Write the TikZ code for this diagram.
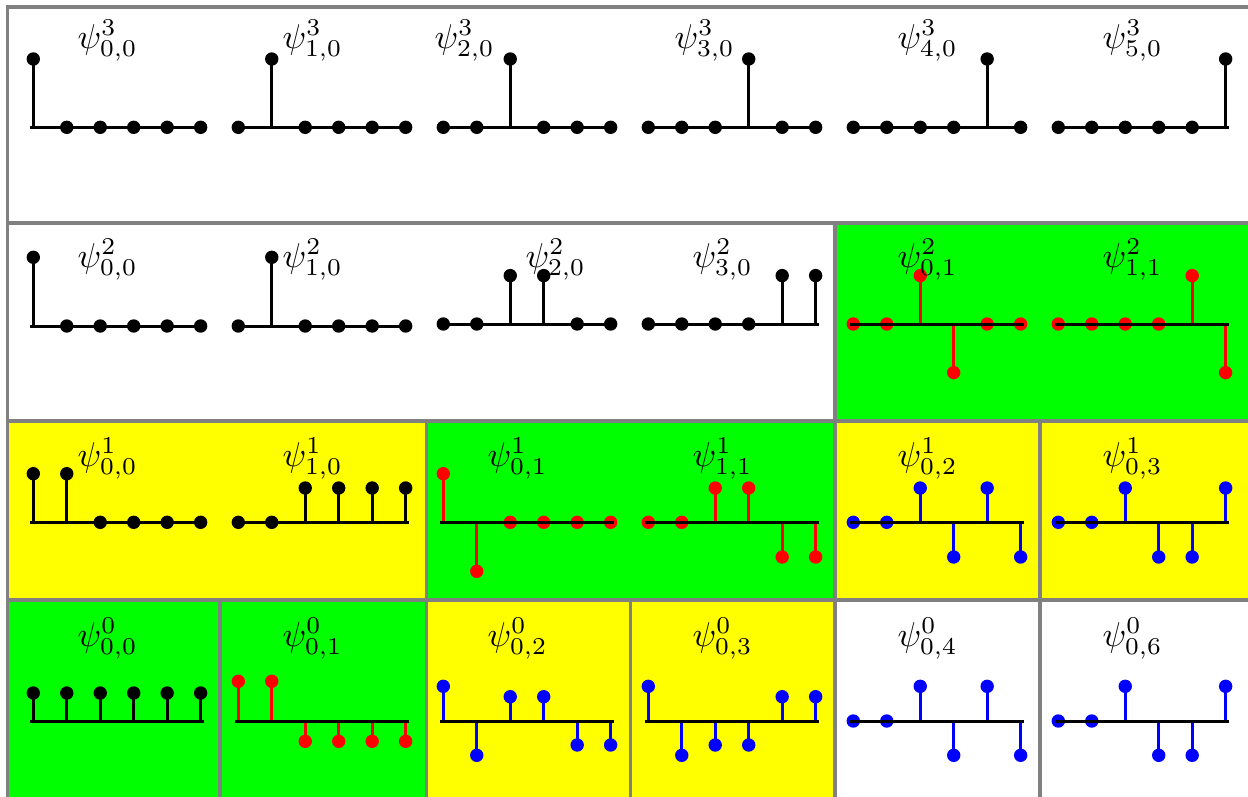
\documentclass[tikz,border=0pt]{standalone}
\definecolor{cellgreen}{HTML}{00FF00}
\definecolor{cellyellow}{HTML}{FFFF00}
\definecolor{framegray}{HTML}{808080}
% one stem plot: #1 left x, #2 axis y, #3 colour, #4 heights (up = positive)
\newcommand\stemplot[4]{%
  \foreach \h [count=\i from 0] in {#4} {
    \pgfmathsetmacro\xx{#1+33.47*\i}
    \draw[stem, #3] (\xx,#2) -- (\xx,#2-\h);
    \fill[#3] (\xx,#2-\h) circle (6.7pt);
  }
  \draw[axisline] (#1-3.3,#2) -- (#1+170.65,#2);
}
\begin{document}
\begin{tikzpicture}[x=1pt,y=-1pt,
  cellframe/.style={draw=framegray, line width=3.2pt},
  axisline/.style={line width=3pt, black},
  stem/.style={line width=2.8pt},
  lbl/.style={inner sep=0pt, anchor=base west, scale=3.45}]
\useasboundingbox (0,0) rectangle (1248,796);

% cell backgrounds
\fill[white] (7.3,7) rectangle (1262,223);
\fill[white] (7.3,223) rectangle (835,421);
\fill[cellgreen] (835,223) rectangle (1262,421);
\fill[cellyellow] (7.3,421) rectangle (426.5,600);
\fill[cellgreen] (426.5,421) rectangle (835,600);
\fill[cellyellow] (835,421) rectangle (1040,600);
\fill[cellyellow] (1040,421) rectangle (1262,600);
\fill[cellgreen] (7.3,600) rectangle (220,810);
\fill[cellgreen] (220,600) rectangle (426.5,810);
\fill[cellyellow] (426.5,600) rectangle (630.7,810);
\fill[cellyellow] (630.7,600) rectangle (835,810);
\fill[white] (835,600) rectangle (1040,810);
\fill[white] (1040,600) rectangle (1262,810);

% cell frames
\draw[cellframe] (7.3,7) rectangle (1262,223);
\draw[cellframe] (7.3,223) rectangle (835,421);
\draw[cellframe] (835,223) rectangle (1262,421);
\draw[cellframe] (7.3,421) rectangle (426.5,600);
\draw[cellframe] (426.5,421) rectangle (835,600);
\draw[cellframe] (835,421) rectangle (1040,600);
\draw[cellframe] (1040,421) rectangle (1262,600);
\draw[cellframe] (7.3,600) rectangle (220,810);
\draw[cellframe] (220,600) rectangle (426.5,810);
\draw[cellframe] (426.5,600) rectangle (630.7,810);
\draw[cellframe] (630.7,600) rectangle (835,810);
\draw[cellframe] (835,600) rectangle (1040,810);
\draw[cellframe] (1040,600) rectangle (1262,810);

% level 3
\stemplot{33.3}{127.3}{black}{68.3,0,0,0,0,0}
\stemplot{238.3}{127.3}{black}{0,68.3,0,0,0,0}
\stemplot{443.3}{127.3}{black}{0,0,68.3,0,0,0}
\stemplot{648.3}{127.3}{black}{0,0,0,68.3,0,0}
\stemplot{853.3}{127.3}{black}{0,0,0,0,68.3,0}
\stemplot{1058.3}{127.3}{black}{0,0,0,0,0,68.3}
\node[lbl] (p30) at (77,48) {$\psi^3_{0,0}$};
\node[lbl] (p31) at (282,48) {$\psi^3_{1,0}$};
\node[lbl] (p32) at (434,48) {$\psi^3_{2,0}$};
\node[lbl] (p33) at (674,48) {$\psi^3_{3,0}$};
\node[lbl] (p34) at (897,48) {$\psi^3_{4,0}$};
\node[lbl] (p35) at (1102,48) {$\psi^3_{5,0}$};

% level 2
\stemplot{33.3}{326}{black}{68.7,0,0,0,0,0}
\stemplot{238.3}{326}{black}{0,68.7,0,0,0,0}
\stemplot{443.3}{324}{black}{0,0,48.4,48.4,0,0}
\stemplot{648.3}{324}{black}{0,0,0,0,48.4,48.4}
\stemplot{853.3}{324}{red}{0,0,48.4,-48.6,0,0}
\stemplot{1058.3}{324}{red}{0,0,0,0,48.4,-48.6}
\node[lbl] (p20) at (77,267) {$\psi^2_{0,0}$};
\node[lbl] (p21) at (282,267) {$\psi^2_{1,0}$};
\node[lbl] (p22) at (525,267) {$\psi^2_{2,0}$};
\node[lbl] (p23) at (692,267) {$\psi^2_{3,0}$};
\node[lbl] (p24) at (897,267) {$\psi^2_{0,1}$};
\node[lbl] (p25) at (1102,267) {$\psi^2_{1,1}$};

% level 1
\stemplot{33.3}{522.3}{black}{48.6,48.6,0,0,0,0}
\stemplot{238.3}{522.3}{black}{0,0,34.3,34.3,34.3,34.3}
\stemplot{443.3}{522.3}{red}{48.6,-49,0,0,0,0}
\stemplot{648.3}{522.3}{red}{0,0,34.3,34.3,-34.7,-34.7}
\stemplot{853.3}{522.3}{blue}{0,0,34.3,-34.7,34.3,-34.7}
\stemplot{1058.3}{522.3}{blue}{0,0,34.3,-34.7,-34.7,34.3}
\node[lbl] (p10) at (77,466) {$\psi^1_{0,0}$};
\node[lbl] (p11) at (282,466) {$\psi^1_{1,0}$};
\node[lbl] (p12) at (487,466) {$\psi^1_{0,1}$};
\node[lbl] (p13) at (692,466) {$\psi^1_{1,1}$};
\node[lbl] (p14) at (897,466) {$\psi^1_{0,2}$};
\node[lbl] (p15) at (1102,466) {$\psi^1_{0,3}$};

% level 0
\stemplot{33.3}{721}{black}{28,28,28,28,28,28}
\stemplot{238.3}{721}{red}{39.7,39.7,-20.3,-20.3,-20.3,-20.3}
\stemplot{443.3}{721}{blue}{34.7,-34.3,24.3,24.3,-24,-24}
\stemplot{648.3}{721}{blue}{34.7,-34.3,-24,-24,24.3,24.3}
\stemplot{853.3}{721}{blue}{0,0,34.7,-34.3,34.7,-34.3}
\stemplot{1058.3}{721}{blue}{0,0,34.7,-34.3,-34.3,34.7}
\node[lbl] (p00) at (77,646) {$\psi^0_{0,0}$};
\node[lbl] (p01) at (282,646) {$\psi^0_{0,1}$};
\node[lbl] (p02) at (487,646) {$\psi^0_{0,2}$};
\node[lbl] (p03) at (692,646) {$\psi^0_{0,3}$};
\node[lbl] (p04) at (897,646) {$\psi^0_{0,4}$};
\node[lbl] (p06) at (1102,646) {$\psi^0_{0,6}$};
\end{tikzpicture}
\end{document}
